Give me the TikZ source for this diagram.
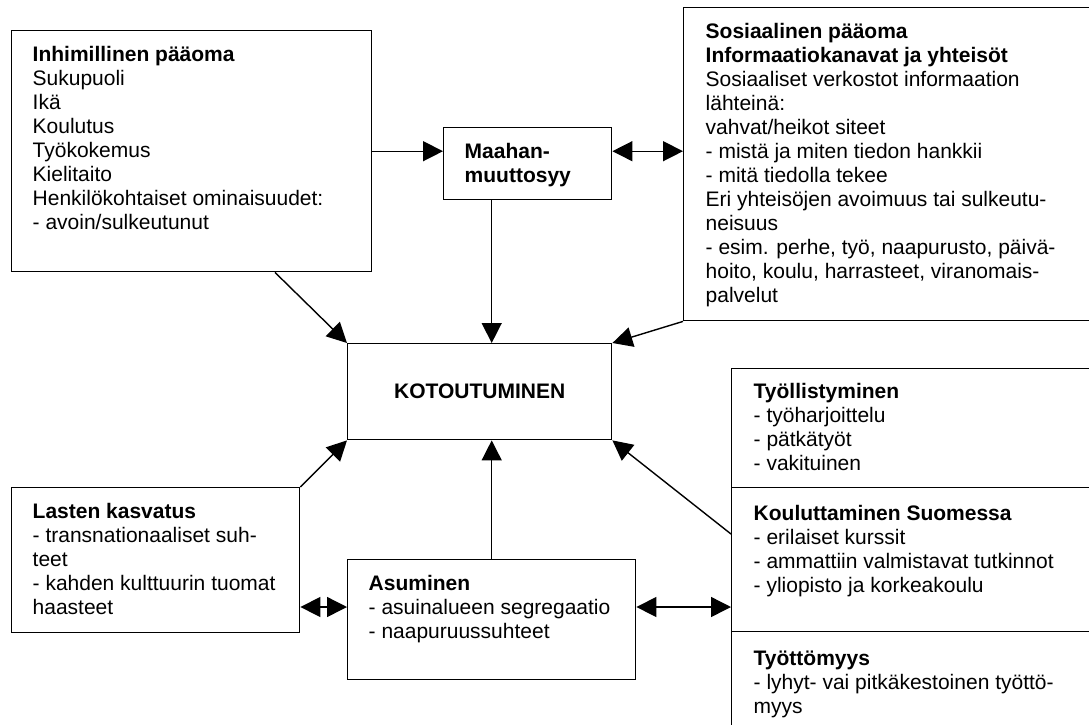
\documentclass[tikz,border=0pt]{standalone}
\usepackage{fontspec}
\setmainfont{Liberation Sans}
\usetikzlibrary{arrows.meta,calc,positioning}

\begin{document}
\begin{tikzpicture}[x=1pt,y=-1pt,line width=1.4pt,>={Triangle[length=20pt,width=20pt]},
  box/.style={draw,rectangle,anchor=north west,inner sep=0pt,font=\fontsize{21}{24}\selectfont},
  txt/.style={anchor=north west,inner sep=0pt,align=left,font=\fontsize{21}{24}\selectfont}]
  \useasboundingbox (0,0) rectangle (1089,724);
  \clip (0,0) rectangle (1089,724);
  \node[box,minimum width=360,minimum height=241] (inh) at (11,30) {};
  \node[box,minimum width=168,minimum height=72] (maahan) at (443,127) {};
  \node[box,minimum width=420,minimum height=313] (sos) at (683,7) {};
  \node[box,minimum width=264,minimum height=96] (koto) at (347,343) {\textbf{KOTOUTUMINEN}};
  \node[box,minimum width=288,minimum height=145] (lasten) at (11,487) {};
  \node[box,minimum width=288,minimum height=120] (asum) at (347,559) {};
  \node[box,minimum width=370,minimum height=119] (tyoll) at (731,368) {};
  \node[box,minimum width=370,minimum height=144] (koul) at (731,487) {};
  \node[box,minimum width=370,minimum height=110] (tyott) at (731,631) {};
  \node[txt] (inhT) at ([shift={(21,16)}]inh.north west) {\textbf{Inhimillinen pääoma}\\Sukupuoli\\Ikä\\Koulutus\\Työkokemus\\Kielitaito\\Henkilökohtaiset ominaisuudet:\\- avoin/sulkeutunut};
  \node[txt] (maahanT) at ([shift={(21,16)}]maahan.north west) {\textbf{Maahan-}\\\textbf{muuttosyy}};
  \node[txt] (sosT) at ([shift={(22,16)}]sos.north west) {\textbf{Sosiaalinen pääoma}\\\textbf{Informaatiokanavat ja yhteisöt}\\Sosiaaliset verkostot informaation\\lähteinä:\\vahvat/heikot siteet\\- mistä ja miten tiedon hankkii\\- mitä tiedolla tekee\\Eri yhteisöjen avoimuus tai sulkeutu-\\neisuus\\- esim. perhe, työ, naapurusto, päivä-\\hoito, koulu, harrasteet, viranomais-\\palvelut};
  \node[txt] (lastenT) at ([shift={(21,16)}]lasten.north west) {\textbf{Lasten kasvatus}\\- transnationaaliset suh-\\teet\\- kahden kulttuurin tuomat\\haasteet};
  \node[txt] (asumT) at ([shift={(21,16)}]asum.north west) {\textbf{Asuminen}\\- asuinalueen segregaatio\\- naapuruussuhteet};
  \node[txt] (tyollT) at ([shift={(22,15)}]tyoll.north west) {\textbf{Työllistyminen}\\- työharjoittelu\\- pätkätyöt\\- vakituinen};
  \node[txt] (koulT) at ([shift={(22,18)}]koul.north west) {\textbf{Kouluttaminen Suomessa}\\- erilaiset kurssit\\- ammattiin valmistavat tutkinnot\\- yliopisto ja korkeakoulu};
  \node[txt] (tyottT) at ([shift={(22,19)}]tyott.north west) {\textbf{Työttömyys}\\- lyhyt- vai pitkäkestoinen työttö-\\myys};
  \coordinate (row) at (0,607);
  \draw[->] (inh.east) -- (inh.east -| maahan.west);
  \draw[<->] (inh.east -| maahan.east) -- (inh.east -| sos.west);
  \draw[->] (asum.north |- maahan.south) -- (asum.north |- koto.north);
  \draw[->] ([xshift=264]inh.south west) -- (koto.north west);
  \draw[->] (sos.south west) -- (koto.north east);
  \draw[->] (lasten.north east) -- (koto.south west);
  \draw[->] (asum.north) -- (asum.north |- koto.south);
  \draw[->] ([yshift=-47]koul.north west) -- (koto.south east);
  \draw[<->] (lasten.east |- row) -- (asum.west |- row);
  \draw[<->] (asum.east |- row) -- (koul.west |- row);
\end{tikzpicture}
\end{document}
